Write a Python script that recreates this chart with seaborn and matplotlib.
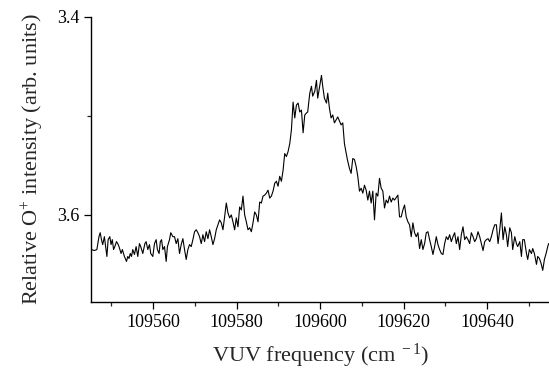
import matplotlib
matplotlib.use("Agg")
import matplotlib.pyplot as plt
import seaborn as sns
import pandas as pd
from matplotlib.ticker import MultipleLocator, FixedLocator

frequency = [
    109545.2, 109545.9, 109546.5, 109547.0, 109547.3, 109547.6, 109547.9, 109548.3, 109548.6, 109548.9,
    109549.2, 109549.6, 109549.9, 109550.2, 109550.5, 109550.8, 109551.2, 109551.5, 109551.8, 109552.3,
    109552.6, 109553.1, 109553.6, 109553.9, 109554.2, 109554.5, 109554.8, 109555.1, 109555.5, 109555.9,
    109556.3, 109556.7, 109557.0, 109557.5, 109558.0, 109558.3, 109558.7, 109559.1, 109559.4, 109559.9,
    109560.3, 109560.7, 109561.0, 109561.4, 109561.7, 109562.0, 109562.3, 109562.7, 109563.1, 109563.4,
    109563.9, 109564.2, 109564.7,
    109565.1, 109565.5, 109565.9, 109566.3, 109566.7, 109567.1, 109567.5, 109567.9, 109568.3, 109568.7,
    109569.1, 109569.5, 109569.9, 109570.3, 109570.7, 109571.1, 109571.5, 109571.9, 109572.3, 109572.7,
    109573.1, 109573.5, 109573.9, 109574.3, 109574.7, 109575.1, 109575.5, 109575.9, 109576.3, 109576.7,
    109577.1, 109577.5, 109577.9, 109578.3, 109578.7, 109579.1, 109579.5, 109579.9, 109580.3, 109580.7,
    109581.1, 109581.5, 109581.9, 109582.3, 109582.7, 109583.1, 109583.5, 109583.9, 109584.3, 109584.7,
    109585.1, 109585.5, 109585.9, 109586.3,
    109586.7, 109587.1, 109587.5, 109587.9, 109588.3, 109588.7, 109589.1, 109589.5, 109589.9, 109590.3,
    109590.7, 109591.1, 109591.5, 109591.9, 109592.3, 109592.7, 109593.1, 109593.5, 109593.9, 109594.3,
    109594.7, 109595.1, 109595.5, 109595.9, 109596.3, 109596.7, 109597.0, 109597.5, 109597.9, 109598.2,
    109598.7, 109599.1, 109599.4, 109599.8, 109600.3, 109600.6, 109601.0, 109601.5, 109601.8, 109602.2,
    109602.6, 109603.0, 109603.4,
    109604.2, 109605.0, 109605.4, 109605.8, 109606.5, 109607.0, 109607.4, 109607.8, 109608.2, 109608.6,
    109609.0, 109609.4, 109609.8, 109610.2, 109610.6, 109611.0, 109611.4, 109611.8, 109612.2, 109612.6,
    109613.0, 109613.4, 109613.8, 109614.2, 109614.6, 109615.0, 109615.4, 109615.8, 109616.2, 109616.6,
    109617.0, 109617.4, 109617.8, 109618.6, 109619.0, 109619.4, 109619.8, 109620.2, 109620.6, 109621.0,
    109621.4, 109621.8, 109622.2,
    109622.6, 109623.0, 109623.4, 109623.8, 109624.2, 109624.6, 109625.0, 109625.4, 109625.8, 109626.2,
    109626.6, 109627.0, 109627.4, 109627.8, 109628.2, 109628.6, 109629.0, 109629.4, 109629.8, 109630.2,
    109630.6, 109631.0, 109631.4, 109631.8, 109632.2, 109632.6, 109633.0, 109633.4, 109633.8, 109634.2,
    109634.6, 109635.0, 109635.4, 109635.8, 109636.2, 109636.6, 109637.0, 109637.4, 109637.8, 109638.2,
    109638.6, 109639.0, 109639.4, 109639.8, 109640.2,
    109640.6, 109641.0, 109641.4, 109641.8, 109642.2, 109642.6, 109643.0, 109643.4, 109643.8, 109644.2,
    109644.6, 109644.9, 109645.4, 109645.8, 109646.1, 109646.6, 109647.0, 109647.3, 109647.8, 109648.2,
    109648.5, 109648.9, 109649.4, 109649.7, 109650.1, 109650.6, 109650.9, 109651.3, 109651.8, 109652.1,
    109652.5, 109652.9, 109653.3, 109653.7, 109654.1, 109654.5, 109654.7,
]

intensity = [
    3.635, 3.636, 3.635, 3.622, 3.618, 3.625, 3.630, 3.622, 3.632, 3.642,
    3.625, 3.622, 3.630, 3.625, 3.635, 3.632, 3.627, 3.629, 3.632, 3.639,
    3.635, 3.642, 3.647, 3.642, 3.644, 3.639, 3.642, 3.635, 3.640, 3.632,
    3.642, 3.629, 3.632, 3.639, 3.629, 3.627, 3.635, 3.630, 3.639, 3.642,
    3.629, 3.625, 3.635, 3.639, 3.627, 3.625, 3.635, 3.632, 3.647, 3.632,
    3.625, 3.618, 3.622,
    3.622, 3.629, 3.624, 3.639, 3.630, 3.624, 3.635, 3.645, 3.635, 3.630,
    3.632, 3.625, 3.617, 3.615, 3.618, 3.622, 3.629, 3.620, 3.627, 3.617,
    3.624, 3.615, 3.622, 3.630, 3.624, 3.615, 3.610, 3.605, 3.608, 3.615,
    3.602, 3.588, 3.598, 3.603, 3.600, 3.607, 3.615, 3.603, 3.612, 3.592,
    3.595, 3.581, 3.600, 3.607, 3.615, 3.613, 3.617, 3.608, 3.597, 3.600,
    3.607, 3.587, 3.588, 3.581,
    3.580, 3.578, 3.575, 3.583, 3.581, 3.576, 3.568, 3.566, 3.571, 3.561,
    3.566, 3.555, 3.538, 3.541, 3.536, 3.528, 3.514, 3.486, 3.502, 3.489,
    3.487, 3.496, 3.494, 3.517, 3.499, 3.497, 3.496, 3.477, 3.470, 3.480,
    3.475, 3.464, 3.482, 3.472, 3.459, 3.470, 3.482, 3.487, 3.477, 3.492,
    3.502, 3.499, 3.507,
    3.501, 3.509, 3.507, 3.528, 3.544, 3.553, 3.558, 3.543, 3.544, 3.551,
    3.561, 3.576, 3.573, 3.578, 3.570, 3.575, 3.585, 3.576, 3.588, 3.576,
    3.605, 3.578, 3.581, 3.563, 3.573, 3.576, 3.593, 3.585, 3.588, 3.581,
    3.587, 3.583, 3.585, 3.580, 3.602, 3.602, 3.595, 3.590, 3.602, 3.607,
    3.610, 3.622, 3.608,
    3.618, 3.622, 3.618, 3.634, 3.625, 3.635, 3.629, 3.618, 3.617, 3.625,
    3.632, 3.640, 3.632, 3.622, 3.630, 3.635, 3.639, 3.640, 3.629, 3.622,
    3.625, 3.620, 3.627, 3.622, 3.618, 3.629, 3.622, 3.635, 3.620, 3.612,
    3.625, 3.622, 3.625, 3.629, 3.618, 3.622, 3.627, 3.624, 3.617, 3.622,
    3.629, 3.636, 3.627, 3.625, 3.624,
    3.627, 3.622, 3.615, 3.610, 3.610, 3.629, 3.615, 3.598, 3.625, 3.612,
    3.620, 3.632, 3.613, 3.618, 3.635, 3.622, 3.629, 3.632, 3.627, 3.642,
    3.625, 3.625, 3.639, 3.645, 3.635, 3.639, 3.634, 3.639, 3.650, 3.642,
    3.644, 3.649, 3.656, 3.645, 3.639, 3.632, 3.629,
]

x_ticks = [109560, 109580, 109600, 109620, 109640]
y_ticks = [3.4, 3.6]
y_tick_labels = ["3.4", "3.6"]

df = pd.DataFrame({"freq": frequency, "inten": intensity})

sns.set_style("ticks")
plt.rcParams["font.family"] = ["Liberation Serif", "DejaVu Serif"]
plt.rcParams["mathtext.fontset"] = "custom"
plt.rcParams["mathtext.rm"] = "Liberation Serif"
plt.rcParams["mathtext.it"] = "Liberation Serif:italic"

fig = plt.figure(figsize=(5.49, 3.71), dpi=100)
ax = fig.add_axes([0.1658, 0.186, 0.8342, 0.7682])

sns.lineplot(data=df, x="freq", y="inten", ax=ax, color="black", linewidth=0.8,
             estimator=None, sort=False)

ax.set_xlim(109545.1, 109654.8)
ax.set_ylim(3.688, 3.4)
ax.xaxis.set_major_locator(FixedLocator(x_ticks))
ax.xaxis.set_minor_locator(MultipleLocator(10))
ax.yaxis.set_major_locator(FixedLocator(y_ticks))
ax.set_yticklabels(y_tick_labels)
ax.yaxis.set_minor_locator(FixedLocator([3.5]))
ax.tick_params(which="major", direction="out", length=5, width=0.9, labelsize=13, colors="black")
ax.tick_params(which="minor", direction="out", length=3, width=0.9)
for s in ["left", "bottom"]:
    ax.spines[s].set_linewidth(1.0)
    ax.spines[s].set_color("black")
sns.despine(ax=ax)

ax.set_xlabel(r"VUV frequency (cm$^{\ -1}$)", fontsize=16, labelpad=8)
ax.set_ylabel(r"Relative O$^{+}$ intensity (arb. units)", fontsize=16, labelpad=8)

fig.savefig("out.png", dpi=100)
